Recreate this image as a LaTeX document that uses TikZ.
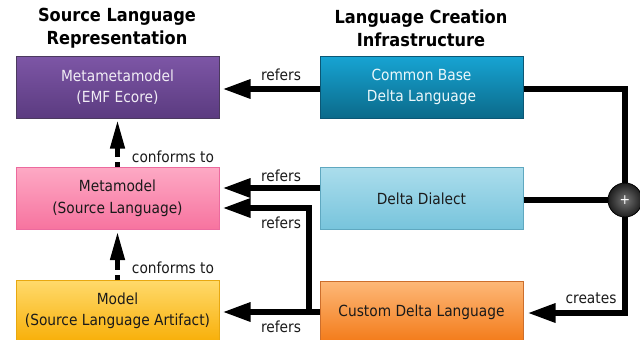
\documentclass[tikz,border=0pt]{standalone}
\usepackage{fontspec}
\setmainfont{DejaVu Sans Condensed}
\usetikzlibrary{arrows.meta}

\definecolor{mmmTop}{HTML}{7D56A6}
\definecolor{mmmBot}{HTML}{5B3B80}
\definecolor{mmmLine}{HTML}{4B3A5E}
\definecolor{mmTop}{HTML}{FDA9C4}
\definecolor{mmBot}{HTML}{F7739F}
\definecolor{mmLine}{HTML}{EC6A9E}
\definecolor{mTop}{HTML}{FFDA6C}
\definecolor{mBot}{HTML}{F8AF08}
\definecolor{mLine}{HTML}{E8A810}
\definecolor{cbTop}{HTML}{17A4D3}
\definecolor{cbBot}{HTML}{0B6A8A}
\definecolor{cbLine}{HTML}{0B5775}
\definecolor{ddTop}{HTML}{ABDDEC}
\definecolor{ddBot}{HTML}{77C4DC}
\definecolor{ddLine}{HTML}{5FA8C0}
\definecolor{cdTop}{HTML}{FDB878}
\definecolor{cdBot}{HTML}{F37A18}
\definecolor{cdLine}{HTML}{CC6E2C}
\definecolor{txtDark}{HTML}{1A1A1A}

\begin{document}
\begin{tikzpicture}[x=1pt,y=-1pt,
  box/.style={draw, line width=1pt, minimum width=203pt, minimum height=62pt,
    inner sep=0pt, align=center, text=txtDark,
    font=\fontsize{15.3}{21.5}\selectfont},
  head/.style={align=center, font=\bfseries\fontsize{18}{23}\selectfont},
  lbl/.style={text=txtDark, font=\fontsize{15.3}{16}\selectfont, inner sep=0pt},
  conn/.style={line width=6pt, draw=black},
  refarrow/.style={conn, -{Triangle[length=28pt,width=18pt]}, shorten >=3pt},
  conform/.style={line width=4.5pt, dash pattern=on 5pt off 5pt on 300pt off 0pt,
    -{Triangle[length=28pt,width=14pt]}, shorten >=2pt},
  joiner/.style={circle, draw=black, line width=0.8pt, minimum size=34pt,
    inner sep=0pt, inner color=black!55, outer color=black!88, text=white,
    font=\fontsize{14}{14}\selectfont},
]
\useasboundingbox (0,0) rectangle (640,340);

% column headings
\node[head] (h1) at (117,28.5) {Source Language\\Representation};
\node[head] (h2) at (421,28.5) {Language Creation\\Infrastructure};

% source language side
\node[box, top color=mmmTop, bottom color=mmmBot, draw=mmmLine, text=black!8!mmmTop!10!white]
  (mmm) at (117.5,87) {Metametamodel\\(EMF Ecore)};
\node[box, top color=mmTop, bottom color=mmBot, draw=mmLine]
  (mm) at (117.5,198.5) {Metamodel\\(Source Language)};
\node[box, top color=mTop, bottom color=mBot, draw=mLine]
  (m) at (117.5,311) {Model\\(Source Language Artifact)};

% language creation side
\node[box, top color=cbTop, bottom color=cbBot, draw=cbLine, text=white!92!cbTop]
  (cb) at (421.5,87) {Common Base\\Delta Language};
\node[box, top color=ddTop, bottom color=ddBot, draw=ddLine]
  (dd) at (421.5,198.5) {Delta Dialect};
\node[box, top color=cdTop, bottom color=cdBot, draw=cdLine]
  (cd) at (421.5,312) {Custom Delta Language};

% combination point
\node[joiner] (plus) at (625,200) {+};

% conformance
\draw[conform] (mm.north) -- (mmm.south);
\draw[conform] (m.north) -- (mm.south);
\node[lbl] (c1) at (173,157) {conforms to};
\node[lbl] (c2) at (173,268) {conforms to};

% references
\draw[refarrow] ([yshift=-2pt]cb.west) -- ([yshift=-2pt]mmm.east);
\node[lbl] (r1) at (281,75) {refers};
\draw[refarrow] ([yshift=10.5pt]dd.west) -- ([yshift=10.5pt]mm.east);
\node[lbl] (r2) at (281,176) {refers};
\draw[refarrow] (cd.west) -- ++(-11,0) |- ([yshift=-9.5pt]mm.east);
\node[lbl] (r3) at (281,223) {refers};
\draw[refarrow] (cd.west) -- (cd.west -| m.east);
\node[lbl] (r4) at (281,327) {refers};

% creation
\draw[conn] ([yshift=-2pt]cb.east) -| (plus.north);
\draw[conn] ([yshift=-1.5pt]dd.east) -- (plus.west);
\draw[refarrow, shorten >=4pt] (plus.south) |- ([yshift=-1pt]cd.east);
\node[lbl] (cr) at (591,298) {creates};
\end{tikzpicture}
\end{document}
